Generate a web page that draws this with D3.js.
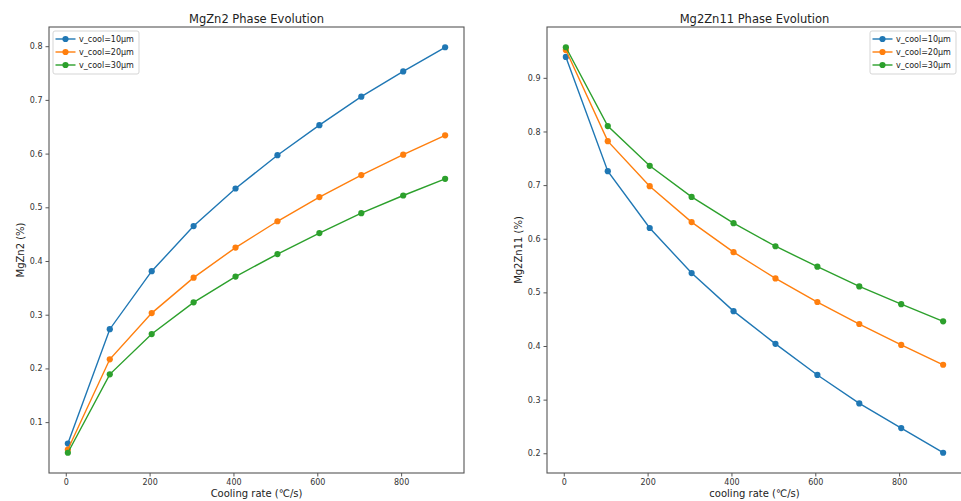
<!DOCTYPE html>
<html>
<head>
<meta charset="utf-8">
<script src="https://cdn.jsdelivr.net/npm/d3@7"></script>
<style>
  html, body { margin: 0; padding: 0; background: #fff; }
  svg { display: block; font-family: "DejaVu Sans", sans-serif; }
</style>
</head>
<body>
<svg id="chart" width="961" height="501"></svg>
<script>
// Cooling rates (°C/s) shared by both panels
const coolingRates = [5, 105, 205, 305, 405, 505, 605, 705, 805, 905];

const seriesNames = ["v_cool=10μm", "v_cool=20μm", "v_cool=30μm"];
const seriesColors = ["#1f77b4", "#ff7f0e", "#2ca02c"];

// MgZn2 phase fraction per series
const mgzn2_10 = [0.060, 0.273, 0.381, 0.465, 0.535, 0.597, 0.653, 0.706, 0.753, 0.798];
const mgzn2_20 = [0.049, 0.217, 0.303, 0.369, 0.425, 0.474, 0.519, 0.560, 0.598, 0.634];
const mgzn2_30 = [0.043, 0.189, 0.264, 0.323, 0.371, 0.413, 0.452, 0.489, 0.522, 0.553];

// Mg2Zn11 phase fraction per series
const mg2zn11_10 = [0.939, 0.726, 0.620, 0.536, 0.465, 0.404, 0.346, 0.293, 0.247, 0.201];
const mg2zn11_20 = [0.952, 0.782, 0.698, 0.631, 0.575, 0.526, 0.482, 0.441, 0.402, 0.365];
const mg2zn11_30 = [0.957, 0.810, 0.736, 0.678, 0.629, 0.586, 0.548, 0.511, 0.478, 0.446];

// Tick labels
const xTicks = [0, 200, 400, 600, 800];
const yTicksLeft = [0.1, 0.2, 0.3, 0.4, 0.5, 0.6, 0.7, 0.8];
const yTicksRight = [0.2, 0.3, 0.4, 0.5, 0.6, 0.7, 0.8, 0.9];

const panels = [
  {
    title: "MgZn2 Phase Evolution",
    xLabel: "Cooling rate (℃/s)",
    yLabel: "MgZn2 (%)",
    series: [mgzn2_10, mgzn2_20, mgzn2_30],
    yTicks: yTicksLeft,
    box: { x: 49, y: 27, w: 415, h: 446 },
    legend: "left"
  },
  {
    title: "Mg2Zn11 Phase Evolution",
    xLabel: "cooling rate (℃/s)",
    yLabel: "Mg2Zn11 (%)",
    series: [mg2zn11_10, mg2zn11_20, mg2zn11_30],
    yTicks: yTicksRight,
    box: { x: 547, y: 27, w: 415, h: 446 },
    legend: "right"
  }
];

const svg = d3.select("#chart");

// Pad a data extent by 5% on each side
function padded(lo, hi) {
  const m = (hi - lo) * 0.05;
  return [lo - m, hi + m];
}

panels.forEach(p => {
  const b = p.box;
  const g = svg.append("g").attr("transform", `translate(${b.x},${b.y})`);

  const allY = p.series.flat();
  const x = d3.scaleLinear()
    .domain(padded(d3.min(coolingRates), d3.max(coolingRates)))
    .range([0, b.w]);
  const y = d3.scaleLinear()
    .domain(padded(d3.min(allY), d3.max(allY)))
    .range([b.h, 0]);

  // Axes
  const xAxis = d3.axisBottom(x).tickValues(xTicks).tickFormat(d3.format("d"))
    .tickSize(3.5).tickPadding(3);
  const yAxis = d3.axisLeft(y).tickValues(p.yTicks).tickFormat(d3.format(".1f"))
    .tickSize(3.5).tickPadding(3);

  const gx = g.append("g").attr("transform", `translate(0,${b.h})`).call(xAxis);
  const gy = g.append("g").call(yAxis);
  [gx, gy].forEach(a => {
    a.select(".domain").remove();
    a.selectAll(".tick line").attr("stroke", "#444").attr("stroke-width", 0.9);
    a.selectAll(".tick text").attr("fill", "#333").style("font-size", "8px")
      .style("font-family", "'DejaVu Sans', sans-serif");
  });

  // Frame
  g.append("rect")
    .attr("x", 0).attr("y", 0).attr("width", b.w).attr("height", b.h)
    .attr("fill", "none").attr("stroke", "#555").attr("stroke-width", 1.1);

  // Lines and markers
  const line = d3.line()
    .x((d, i) => x(coolingRates[i]))
    .y(d => y(d));

  p.series.forEach((vals, si) => {
    g.append("path")
      .datum(vals)
      .attr("d", line)
      .attr("fill", "none")
      .attr("stroke", seriesColors[si])
      .attr("stroke-width", 1.4);
    g.append("g").selectAll("circle")
      .data(vals)
      .join("circle")
      .attr("cx", (d, i) => x(coolingRates[i]))
      .attr("cy", d => y(d))
      .attr("r", 3.1)
      .attr("fill", seriesColors[si]);
  });

  // Title and axis labels
  svg.append("text")
    .attr("x", b.x + b.w / 2).attr("y", 22.5)
    .attr("text-anchor", "middle")
    .attr("fill", "#222")
    .style("font-size", "11.5px")
    .text(p.title);

  svg.append("text")
    .attr("x", b.x + b.w / 2).attr("y", 497)
    .attr("text-anchor", "middle")
    .attr("fill", "#222")
    .style("font-size", "10px")
    .text(p.xLabel);

  svg.append("text")
    .attr("transform", `translate(${b.x - 25},${b.y + b.h / 2}) rotate(-90)`)
    .attr("text-anchor", "middle")
    .attr("fill", "#222")
    .style("font-size", "10px")
    .text(p.yLabel);

  // Legend
  const lw = 86, lh = 43;
  const lx = p.legend === "left" ? 4 : b.w - lw - 3 - 3;
  const lg = g.append("g").attr("transform", `translate(${lx},4)`);
  lg.append("rect")
    .attr("width", lw).attr("height", lh).attr("rx", 2)
    .attr("fill", "#fff").attr("fill-opacity", 0.8)
    .attr("stroke", "#d0d0d0").attr("stroke-width", 0.9);
  seriesNames.forEach((name, i) => {
    const cy = 8 + i * 13;
    lg.append("line")
      .attr("x1", 2.5).attr("x2", 22.5).attr("y1", cy).attr("y2", cy)
      .attr("stroke", seriesColors[i]).attr("stroke-width", 1.4);
    lg.append("circle").attr("cx", 12.5).attr("cy", cy).attr("r", 3.1)
      .attr("fill", seriesColors[i]);
    lg.append("text")
      .attr("x", 26).attr("y", cy + 3)
      .attr("fill", "#222")
      .style("font-size", "8px")
      .text(name);
  });
});
</script>
</body>
</html>
